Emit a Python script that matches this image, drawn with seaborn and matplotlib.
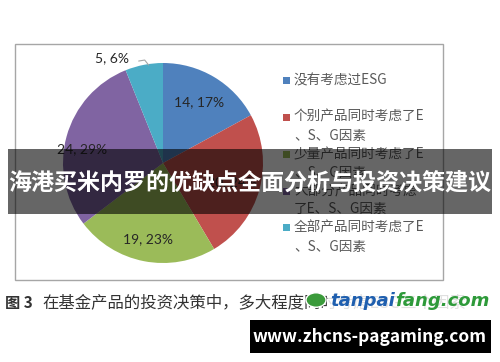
import numpy as np
import matplotlib
matplotlib.use("Agg")
import matplotlib.pyplot as plt
from matplotlib.patches import Rectangle, Circle
import seaborn as sns

# ---- data ----
categories = ["没有考虑过ESG", "个别产品同时考虑了E\n、S、G因素", "少量产品同时考虑了E\n、S、G因素",
              "大部分产品同时考虑\n了E、S、G因素", "全部产品同时考虑了E\n、S、G因素"]
counts = [14, 20, 19, 24, 5]
colors = ["#4F81BD", "#C0504D", "#9BBB59", "#8064A2", "#4BACC6"]
title_text = "海港买米内罗的优缺点全面分析与投资决策建议"
caption_fig = "图 3"
caption_text = "在基金产品的投资决策中，多大程度同时考虑ESG三个因素"
site_text = "www.zhcns-pagaming.com"
mark_a, mark_b = "tanpai", "fang.com"

sns.set_theme(style="white")
plt.rcParams['font.family'] = ['Noto Sans CJK SC', 'DejaVu Sans']

W, H = 500, 362
fig = plt.figure(figsize=(W / 100, H / 100), dpi=100)
fig.patch.set_facecolor("white")

def fx(x):
    return x / W

def fy(y):
    return 1 - y / H

# chart frame
fig.patches.append(Rectangle((fx(15), fy(280)), fx(443) - fx(15), fy(44) - fy(280),
                             transform=fig.transFigure, fill=False, edgecolor="#A6A6A6",
                             linewidth=1.0, zorder=0))

# pie axes: center (163,163), radius 100 px
ax = fig.add_axes([fx(63), fy(263), 200 / W, 200 / H])
wedges, _ = ax.pie(counts, colors=colors, startangle=90, counterclock=False,
                   wedgeprops=dict(linewidth=0), radius=1.0)
ax.set_xlim(-1, 1)
ax.set_ylim(-1, 1)
ax.set_aspect("equal")
ax.axis("off")

total = sum(counts)
dists = [0.71, 0.72, 0.78, 0.84, 1.12]
for i, (w, v) in enumerate(zip(wedges, counts)):
    ang = np.deg2rad((w.theta1 + w.theta2) / 2)
    r = dists[i]
    x, y = r * np.cos(ang), r * np.sin(ang)
    lab = f"{v}, {round(100 * v / total)}%"
    if i == 3:
        y -= 0.08
    if i == len(counts) - 1:
        x -= 0.30
        y -= 0.05
        ax.plot([x + 0.27, x + 0.33, x + 0.37], [y - 0.03, y - 0.02, y - 0.07],
                color="#A6A6A6", lw=0.8, clip_on=False)
    ax.text(x, y, lab, ha="center", va="center", fontsize=10, color="#262626",
            family=["Lato", "DejaVu Sans"], clip_on=False)

# manual legend
y0, step, line = 80, 37, 18.5
for i, (c, lab) in enumerate(zip(colors, categories)):
    yy = y0 + i * step
    fig.patches.append(Rectangle((fx(283), fy(yy + 3.5)), 7 / W, 7 / H,
                                 transform=fig.transFigure, facecolor=c, edgecolor="none"))
    for j, part in enumerate(lab.split("\n")):
        fig.text(fx(294), fy(yy + j * line), part, ha="left", va="center",
                 fontsize=9.8, color="#595959", fontweight="light")

# banner overlay
fig.patches.append(Rectangle((fx(8), fy(214)), fx(492) - fx(8), fy(149) - fy(214),
                             transform=fig.transFigure, facecolor="black", alpha=0.6,
                             edgecolor="none", zorder=5))
fig.text(fx(250), fy(183), title_text, ha="center", va="center", fontsize=16.6,
         color="white", fontweight="bold", zorder=6)

# caption
fig.text(fx(5), fy(303), caption_fig, ha="left", va="center", fontsize=11,
         color="#333333", fontweight="bold")
fig.text(fx(42), fy(303), caption_text, ha="left", va="center", fontsize=11.8,
         color="#333333")

# tanpaifang watermark
fig.patches.append(Circle((fx(316), fy(300)), 10 / W, transform=fig.transFigure,
                          facecolor="#3A9A3A", edgecolor="white", zorder=6))
fig.patches.append(Rectangle((fx(328), fy(312)), fx(490) - fx(328), fy(289) - fy(312),
                             transform=fig.transFigure, facecolor="white", alpha=0.85,
                             edgecolor="none", zorder=6))
t1 = fig.text(fx(330), fy(301), mark_a, ha="left", va="center", fontsize=13,
              color="#1F5FAF", fontweight="heavy", style="italic",
              family=["DejaVu Sans"], zorder=7)
fig.canvas.draw()
bb = t1.get_window_extent(renderer=fig.canvas.get_renderer())
fig.text(bb.x1 / W + 0.001, fy(301), mark_b, ha="left", va="center", fontsize=13,
         color="#2E9A3A", fontweight="heavy", style="italic",
         family=["DejaVu Sans"], zorder=7)

# bottom black box
fig.patches.append(Rectangle((fx(250), fy(353)), fx(491) - fx(250), fy(320) - fy(353),
                             transform=fig.transFigure, facecolor="black",
                             edgecolor="none", zorder=6))
fig.text(fx(370), fy(337), site_text, ha="center", va="center", fontsize=12.5,
         color="white", fontweight="bold", zorder=7)

fig.savefig("out.png", dpi=100)
